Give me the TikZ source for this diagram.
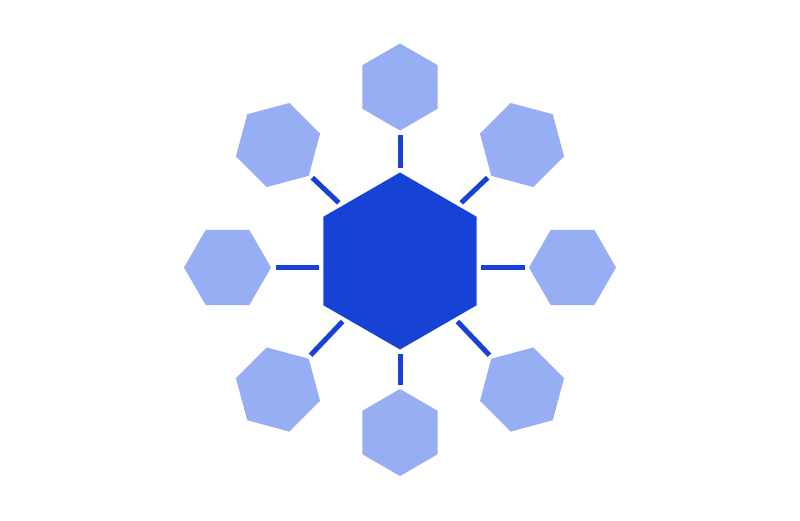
\documentclass[tikz,border=0pt]{standalone}
\usepackage{tikz}
\usetikzlibrary{shapes.geometric}
\definecolor{hubblue}{RGB}{23,66,214}
\definecolor{leafblue}{RGB}{151,174,245}

\begin{document}
\begin{tikzpicture}[x=1pt, y=-1pt,
			every node/.style={
				regular polygon,
				regular polygon sides=6,
				inner sep=0pt,
				outer sep=0pt
			},
			hub/.style={fill=hubblue, minimum size=177pt, shape border rotate=30},
			leaf/.style={fill=leafblue, minimum size=87pt},
			link/.style={hubblue, line width=5pt, shorten >=4.5pt, shorten <=4.5pt}
			]
			
			% Canvas
			\fill[white] (0,0) rectangle (800,520);
			\useasboundingbox (0,0) rectangle (800,520);
			
			% Centre
			\node[hub] (M) at (400,261) {};
			
			% Ring - straight
			\node[leaf, shape border rotate=30] (T) at (400,87) {};
			\node[leaf, shape border rotate=30] (B) at (400,432.5) {};
			\node[leaf] (L) at (227.5,267.5) {};
			\node[leaf] (R) at (572.5,267.5) {};
			
			% Ring - diagonal
			\node[leaf, shape border rotate=15] (TL) at (278,145) {};
			\node[leaf, shape border rotate=-15] (TR) at (522,145) {};
			\node[leaf, shape border rotate=-15] (BL) at (278,389.5) {};
			\node[leaf, shape border rotate=15] (BR) at (522,389.5) {};
			
			% Links
			\draw[link] (T) -- (M);
			\draw[link] (B) -- (M);
			\draw[link] (L) -- (L -| M.west);
			\draw[link] (R) -- (R -| M.east);
			
			\draw[link] (TL) -- (M);
			\draw[link] (TR) -- (M);
			\draw[link] (BL) -- (M);
			\draw[link] (BR) -- (M);
			
		\end{tikzpicture}
\end{document}
